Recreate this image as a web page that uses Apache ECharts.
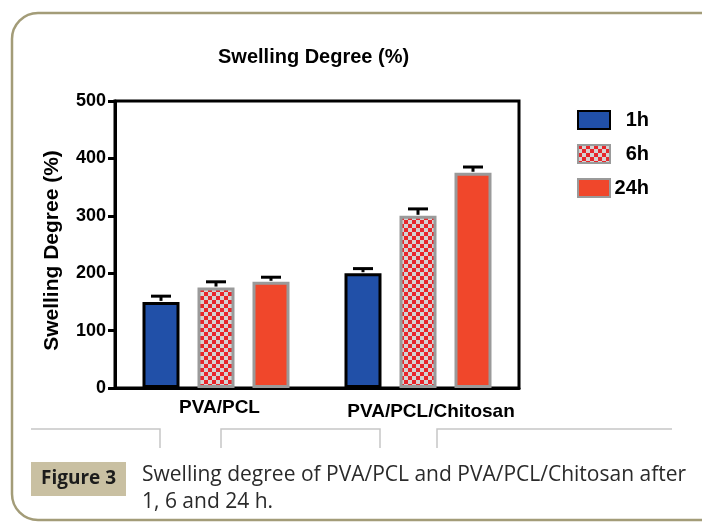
<!DOCTYPE html>
<html>
<head>
<meta charset="utf-8">
<script src="https://cdn.jsdelivr.net/npm/echarts@6/dist/echarts.min.js"></script>
<style>
  html, body { margin: 0; padding: 0; background: #fff; }
  #chart { width: 702px; height: 523px; }
</style>
</head>
<body>
<div id="chart"></div>
<script>
// Swelling degree (%) of the two membranes after 1, 6 and 24 h (mean + SD)
const categories = ['PVA/PCL', 'PVA/PCL/Chitosan'];
const seriesNames = ['1h', '6h', '24h'];
const values1h = [150, 200];
const values6h = [175, 300];
const values24h = [185, 375];
const err1h = [10, 8];
const err6h = [10, 12];
const err24h = [8, 10];
const yMin = 0, yMax = 500, yStep = 100;

const FONT = '"Liberation Sans", Arial, Helvetica, sans-serif';
const CAPTION_FONT = '"Open Sans", "Noto Sans", sans-serif';
const BAR_W = 37;      // inner bar width (border adds 3px)
const BAR_STEP = 55;   // centre-to-centre distance inside a group

// red / grey checkerboard fill for the 6h bars
function checkerPattern() {
  const c = document.createElement('canvas');
  c.width = 8; c.height = 8;
  const g = c.getContext('2d');
  g.fillStyle = '#d3d3d3';
  g.fillRect(0, 0, 8, 8);
  g.fillStyle = '#e8262b';
  g.fillRect(0, 0, 4, 4);
  g.fillRect(4, 4, 4, 4);
  return c;
}

const barStyles = [
  { color: '#2150a8', borderColor: '#000000', borderWidth: 3 },
  { color: { image: checkerPattern(), repeat: 'repeat' }, borderColor: '#9a9a9a', borderWidth: 3 },
  { color: '#f0472b', borderColor: '#9a9a9a', borderWidth: 3 }
];
const allValues = [values1h, values6h, values24h];
const allErrors = [err1h, err6h, err24h];

const barSeries = seriesNames.map((name, k) => ({
  type: 'bar',
  name: name,
  data: allValues[k],
  barWidth: BAR_W,
  barGap: ((BAR_STEP - BAR_W) / BAR_W * 100).toFixed(2) + '%',
  itemStyle: barStyles[k],
  z: 2
}));

// upper error bars drawn on top of each bar
const errorSeries = seriesNames.map((name, k) => ({
  type: 'custom',
  name: name + ' SD',
  silent: true,
  z: 3,
  data: allValues[k].map((v, i) => [i, v, v + allErrors[k][i]]),
  encode: { x: 0, y: [1, 2] },
  renderItem: function (params, api) {
    const base = api.coord([api.value(0), api.value(1)]);
    const top = api.coord([api.value(0), api.value(2)]);
    const x = base[0] + (k - 1) * BAR_STEP;
    return {
      type: 'group',
      children: [
        { type: 'line', shape: { x1: x, y1: base[1] - 1, x2: x, y2: top[1] },
          style: { stroke: '#000', lineWidth: 3 } },
        { type: 'line', shape: { x1: x - 10, y1: top[1], x2: x + 10, y2: top[1] },
          style: { stroke: '#000', lineWidth: 3 } }
      ]
    };
  }
}));

const chart = echarts.init(document.getElementById('chart'), null, { renderer: 'canvas' });
chart.setOption({
  animation: false,
  backgroundColor: '#ffffff',
  title: {
    text: 'Swelling Degree (%)',
    left: 218, top: 47,
    padding: 0,
    textStyle: { fontFamily: FONT, fontSize: 20, fontWeight: 'bold', color: '#000' }
  },
  legend: {
    data: seriesNames,
    orient: 'vertical',
    left: 577, top: 110,
    padding: 0,
    itemWidth: 32, itemHeight: 18,
    itemGap: 14,
    icon: 'rect',
    selectedMode: false,
    formatter: n => '{t|' + n + '}',
    textStyle: {
      rich: { t: { width: 34, align: 'right', fontFamily: FONT, fontSize: 20, fontWeight: 'bold', color: '#000' } }
    }
  },
  grid: {
    left: 115, right: 183, top: 101, bottom: 135,
    show: true, borderColor: '#000', borderWidth: 3, backgroundColor: 'transparent'
  },
  xAxis: {
    type: 'category',
    data: [
      { value: categories[0] },
      { value: categories[1], textStyle: { padding: [4, 0, 0, 26] } }
    ],
    axisLine: { lineStyle: { color: '#000', width: 3 } },
    axisTick: { alignWithLabel: true, length: 6, lineStyle: { color: '#000', width: 3 } },
    axisLabel: { interval: 0, margin: 10, fontFamily: FONT, fontSize: 19, fontWeight: 'bold', color: '#000', padding: [0, 0, 0, 7] },
    splitLine: { show: false }
  },
  yAxis: {
    type: 'value',
    min: yMin, max: yMax, interval: yStep,
    name: 'Swelling Degree (%)',
    nameLocation: 'middle',
    nameGap: 52,
    nameRotate: 90,
    nameTextStyle: { fontFamily: FONT, fontSize: 21, fontWeight: 'bold', color: '#000', padding: [0, 0, 0, -12] },
    axisLine: { show: true, lineStyle: { color: '#000', width: 3 } },
    axisTick: { show: true, length: 7, lineStyle: { color: '#000', width: 3 } },
    axisLabel: { margin: 9, fontFamily: FONT, fontSize: 18, fontWeight: 'bold', color: '#000' },
    splitLine: { show: false }
  },
  series: barSeries.concat(errorSeries),
  graphic: [
    // rounded panel outline
    { type: 'rect', silent: true, z: 0,
      shape: { x: 12, y: 13, width: 720, height: 507, r: 26 },
      style: { fill: 'none', stroke: '#a39c78', lineWidth: 2.5 } },
    // light grey rules above the caption
    { type: 'polyline', silent: true,
      shape: { points: [[31, 429], [160, 429], [160, 448]] },
      style: { fill: 'none', stroke: '#c6c6c6', lineWidth: 1.5 } },
    { type: 'polyline', silent: true,
      shape: { points: [[221, 448], [221, 429], [380, 429], [380, 448]] },
      style: { fill: 'none', stroke: '#c6c6c6', lineWidth: 1.5 } },
    { type: 'polyline', silent: true,
      shape: { points: [[437, 448], [437, 429], [672, 429]] },
      style: { fill: 'none', stroke: '#c6c6c6', lineWidth: 1.5 } },
    // caption label
    { type: 'rect', silent: true,
      shape: { x: 31, y: 462, width: 95, height: 34 },
      style: { fill: '#c9c0a2' } },
    { type: 'text', silent: true,
      style: { x: 78.5, y: 479, text: 'Figure 3', align: 'center', verticalAlign: 'middle',
               font: 'bold 19px ' + CAPTION_FONT, fill: '#1c1c1c' } },
    { type: 'text', silent: true,
      style: { x: 142, y: 475, text: 'Swelling degree of PVA/PCL and PVA/PCL/Chitosan after',
               verticalAlign: 'middle', font: '21px ' + CAPTION_FONT, fill: '#2a2a2a' } },
    { type: 'text', silent: true,
      style: { x: 142, y: 502, text: '1, 6 and 24 h.',
               verticalAlign: 'middle', font: '21px ' + CAPTION_FONT, fill: '#2a2a2a' } }
  ]
});
</script>
</body>
</html>
